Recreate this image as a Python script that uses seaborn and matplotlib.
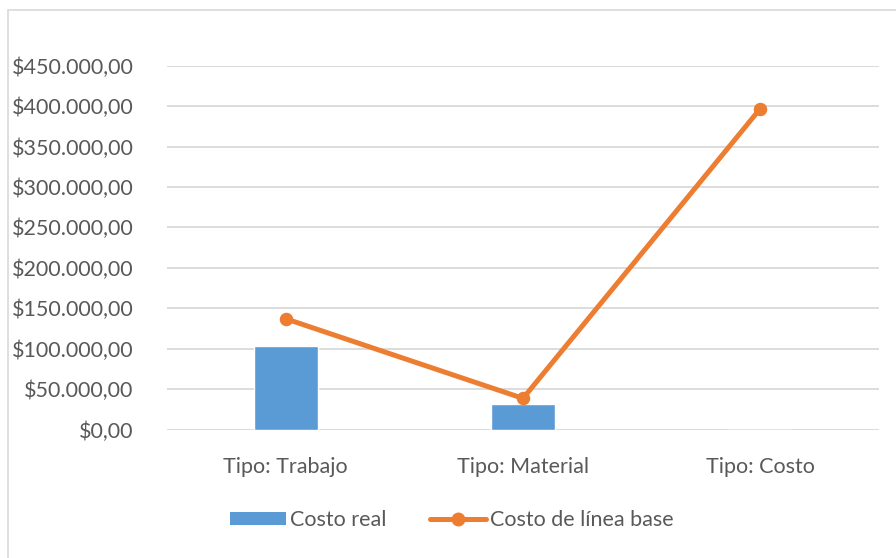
import matplotlib
matplotlib.use("Agg")
import matplotlib.pyplot as plt
from matplotlib.patches import Rectangle
from matplotlib.lines import Line2D
from matplotlib.ticker import FuncFormatter, MultipleLocator
import seaborn as sns
import pandas as pd

categories = ["Tipo: Trabajo", "Tipo: Material", "Tipo: Costo"]
costo_real = [103500, 32000, 0]
costo_linea_base = [137000, 38500, 397000]

BLUE = "#5B9BD5"
ORANGE = "#ED7D31"
TEXT = "#595959"
GRID = "#D9D9D9"
FS = 15.5

sns.set_theme(style="white")
plt.rcParams["font.family"] = ["Lato", "DejaVu Sans"]

fig = plt.figure(figsize=(8.96, 5.58), dpi=100)
ax = fig.add_axes([167 / 896, 1 - 429.5 / 558, 712 / 896, (429.5 - 65.7) / 558])

df = pd.DataFrame({"tipo": categories, "real": costo_real, "base": costo_linea_base})

sns.barplot(data=df, x="tipo", y="real", color=BLUE, width=0.27,
            saturation=1, ax=ax, zorder=2)
sns.pointplot(data=df, x="tipo", y="base", color=ORANGE, ax=ax,
              markers="o", linestyles="-", markersize=7, linewidth=3.6,
              errorbar=None)
for ln in ax.lines:
    ln.set_zorder(4)

ax.set_xlim(-0.5, 2.5)
ax.set_ylim(0, 450000)
ax.yaxis.set_major_locator(MultipleLocator(50000))


def money(v, _):
    s = f"{v:,.2f}".replace(",", "X").replace(".", ",").replace("X", ".")
    return "$" + s


ax.yaxis.set_major_formatter(FuncFormatter(money))
ax.grid(axis="y", color=GRID, linewidth=1.3, zorder=0)
ax.set_axisbelow(True)
for sp in ax.spines.values():
    sp.set_visible(False)
ax.set_xlabel("")
ax.set_ylabel("")
ax.tick_params(axis="y", length=0, pad=24, labelsize=FS, labelcolor=TEXT)
ax.tick_params(axis="x", length=0, pad=20, labelsize=FS, labelcolor=TEXT)

# chart frame
fig.patches.append(Rectangle((8 / 896, -0.1), 1.2, 1 - 10 / 558 + 0.1,
                             transform=fig.transFigure, fill=False,
                             edgecolor=GRID, linewidth=1.2))

handles = [
    Rectangle((0, 0), 1, 1, facecolor=BLUE, edgecolor="none"),
    Line2D([0], [0], color=ORANGE, linewidth=3.6, marker="o", markersize=9),
]
fig.legend(handles, ["Costo real", "Costo de línea base"], loc="center",
           bbox_to_anchor=(452 / 896, 1 - 520 / 558), ncol=2, frameon=False,
           fontsize=FS, labelcolor=TEXT, handlelength=2.6, handleheight=0.55,
           handletextpad=0.2, columnspacing=2.0)

fig.savefig("out.png", dpi=100, facecolor="white")
